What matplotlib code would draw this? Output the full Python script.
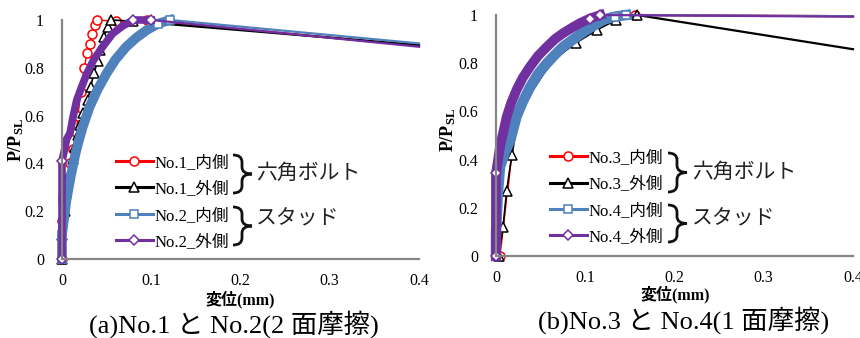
import matplotlib.pyplot as plt
from matplotlib.path import Path
from matplotlib.patches import PathPatch

plt.rcParams['font.family'] = ['Liberation Serif', 'Noto Sans CJK JP']
plt.rcParams['mathtext.fontset'] = 'custom'
plt.rcParams['mathtext.rm'] = 'Liberation Serif'
plt.rcParams['mathtext.bf'] = 'Liberation Serif:bold'

# ---- (a) No.1 / No.2 : displacement (mm) vs P/Psl, last point = tail ----
x_no1_in = [0, 0.0, 0.0015, 0.005, 0.009, 0.012, 0.016, 0.018, 0.021, 0.025,
            0.028, 0.031, 0.034, 0.037, 0.039, 0.06, 0.095, 0.4]
y_no1_in = [0, 0.16, 0.25, 0.33, 0.40, 0.46, 0.53, 0.60, 0.70, 0.80,
            0.86, 0.90, 0.94, 0.98, 1.0, 0.995, 0.998, 0.892]
x_no1_out = [0, 0.0, 0.003, 0.005, 0.008, 0.012, 0.015, 0.018, 0.020, 0.024,
             0.029, 0.032, 0.036, 0.040, 0.043, 0.047, 0.051, 0.055, 0.08, 0.4]
y_no1_out = [0, 0.10, 0.20, 0.275, 0.35, 0.42, 0.47, 0.52, 0.56, 0.61,
             0.665, 0.72, 0.78, 0.83, 0.875, 0.93, 0.97, 1.0, 0.995, 0.895]
x_no2_in = [0, 0.0, 0.005, 0.010, 0.016, 0.023, 0.031, 0.040, 0.050, 0.060,
            0.072, 0.083, 0.095, 0.108, 0.121, 0.4]
y_no2_in = [0, 0.10, 0.247, 0.35, 0.456, 0.55, 0.637, 0.71, 0.777, 0.835,
            0.888, 0.925, 0.958, 0.985, 1.0, 0.902]
x_no2_out = [0, 0.0, 0.003, 0.005, 0.009, 0.0127, 0.0165, 0.022, 0.028, 0.035,
             0.043, 0.050, 0.057, 0.068, 0.080, 0.100, 0.4]
y_no2_out = [0, 0.41, 0.46, 0.50, 0.527, 0.60, 0.665, 0.72, 0.777, 0.83,
             0.875, 0.91, 0.944, 0.975, 1.0, 1.0, 0.888]

# ---- (b) No.3 / No.4 ----
x_no3_in = [0.004, 0.006, 0.008, 0.010, 0.012, 0.014, 0.016, 0.018, 0.022, 0.030,
            0.040, 0.055, 0.070, 0.090, 0.110, 0.130, 0.145, 0.156, 0.4]
y_no3_in = [0, 0.05, 0.12, 0.18, 0.25, 0.30, 0.37, 0.44, 0.51, 0.61,
            0.685, 0.775, 0.84, 0.90, 0.945, 0.975, 0.99, 1.0, 0.995]
x_no3_out = [0.003, 0.005, 0.008, 0.010, 0.012, 0.015, 0.018, 0.022, 0.030, 0.040,
             0.055, 0.070, 0.090, 0.113, 0.135, 0.158, 0.4]
y_no3_out = [0, 0.05, 0.12, 0.20, 0.27, 0.35, 0.42, 0.51, 0.61, 0.68,
             0.765, 0.83, 0.885, 0.938, 0.98, 1.0, 0.858]
x_no4_in = [0, 0.0, 0.002, 0.0045, 0.010, 0.016, 0.023, 0.030, 0.038, 0.047,
            0.057, 0.066, 0.075, 0.087, 0.098, 0.110, 0.120, 0.133, 0.146, 0.4]
y_no4_in = [0, 0.10, 0.25, 0.37, 0.43, 0.48, 0.578, 0.64, 0.70, 0.755,
            0.80, 0.835, 0.868, 0.90, 0.93, 0.957, 0.98, 0.993, 1.0, 0.995]
x_no4_out = [0, 0.0, 0.0045, 0.012, 0.017, 0.023, 0.030, 0.038, 0.047, 0.057,
             0.066, 0.075, 0.085, 0.094, 0.105, 0.117, 0.4]
y_no4_out = [0, 0.343, 0.453, 0.578, 0.635, 0.689, 0.74, 0.785, 0.83, 0.868,
             0.90, 0.924, 0.947, 0.966, 0.985, 1.0, 0.993]

x_ticks = [0, 0.1, 0.2, 0.3, 0.4]
y_ticks = [0, 0.2, 0.4, 0.6, 0.8, 1]

RED, BLACK, BLUE, PURPLE = '#FF0000', '#000000', '#4F81BD', '#7030A0'
W, H = 860, 338


def fx(px):
    return px / W


def fy(py):
    return 1 - py / H


def draw(ax, x, y, color, marker, lw, ms, label, every=None):
    # tail segment (no markers)
    ax.plot(x[-2:], y[-2:], color=color, lw=1.6, clip_on=False)
    line, = ax.plot(x[:-1], y[:-1], color=color, lw=lw, marker=marker, ms=ms,
                    mfc='white', mec=color, mew=1.1, markevery=every,
                    clip_on=False, label=label)
    return line


def brace(x0, y0, y1, xm, xt):
    ym = (y0 + y1) / 2
    r = 7
    pts = [(x0, y0), (xm, y0), (xm, y0 + r), (xm, ym - r), (xm, ym), (xt, ym),
           (xm, ym), (xm, ym + r), (xm, y1 - r), (xm, y1), (x0, y1)]
    codes = [Path.MOVETO, Path.CURVE3, Path.CURVE3, Path.LINETO, Path.CURVE3, Path.CURVE3,
             Path.CURVE3, Path.CURVE3, Path.LINETO, Path.CURVE3, Path.CURVE3]
    p = Path([(fx(a), fy(b)) for a, b in pts], codes)
    fig.patches.append(PathPatch(p, fill=False, lw=2.0, ec='#111111',
                                 transform=fig.transFigure))


fig = plt.figure(figsize=(8.6, 3.38), dpi=100)
ax1 = fig.add_axes([fx(62), fy(259), 357 / W, 239 / H])
ax2 = fig.add_axes([fx(496), fy(256), 357 / W, 241 / H])

h1 = [
    draw(ax1, x_no1_in, y_no1_in, RED, 'o', 1.0, 6.5, 'No.1_内側'),
    draw(ax1, x_no1_out, y_no1_out, BLACK, '^', 1.2, 6.5, 'No.1_外側'),
    draw(ax1, x_no2_in, y_no2_in, BLUE, 's', 7.0, 6, 'No.2_内側', [0, 1, 13, 14]),
    draw(ax1, x_no2_out, y_no2_out, PURPLE, 'D', 5.5, 5, 'No.2_外側', [0, 1, 14, 15]),
]
h2 = [
    draw(ax2, x_no3_in, y_no3_in, RED, 'o', 1.2, 6.5, 'No.3_内側', [0, 17]),
    draw(ax2, x_no3_out, y_no3_out, BLACK, '^', 1.2, 6.5, 'No.3_外側',
         [0, 2, 4, 6, 12, 13, 14, 15]),
    draw(ax2, x_no4_in, y_no4_in, BLUE, 's', 7.5, 6, 'No.4_内側', [0, 1, 17, 18]),
    draw(ax2, x_no4_out, y_no4_out, PURPLE, 'D', 7.0, 5, 'No.4_外側', [0, 1, 14, 15]),
]

for ax, handles, lx, ly in [(ax1, h1, 116, 155), (ax2, h2, 550, 150)]:
    ax.set_xlim(0, 0.4)
    ax.set_ylim(0, 1)
    ax.set_xticks(x_ticks)
    ax.set_xticklabels([f'{v:g}' for v in x_ticks])
    ax.set_yticks(y_ticks)
    ax.set_yticklabels([f'{v:g}' for v in y_ticks])
    ax.tick_params(length=0, labelsize=11.5, pad=10)
    ax.tick_params(axis='y', pad=13)
    for s in ['top', 'right']:
        ax.spines[s].set_visible(False)
    for s in ['left', 'bottom']:
        ax.spines[s].set_color('#868686')
        ax.spines[s].set_linewidth(1.6)
    ax.patch.set_alpha(0)
    leg = ax.legend(handles=handles, loc='upper left', frameon=False,
                    bbox_to_anchor=(fx(lx), fy(ly)), bbox_transform=fig.transFigure,
                    fontsize=12, borderpad=0, handlelength=2.2, handletextpad=0.1,
                    labelspacing=0.62, borderaxespad=0)
    for ln in leg.get_lines():
        ln.set_linewidth(2.2)

# braces and group labels
brace(233, 155, 193, 242, 252)
brace(233, 207, 245, 242, 252)
brace(668, 153, 192, 677, 687)
brace(668, 205, 242, 677, 687)
for px, py, s in [(256, 174, '六角ボルト'), (256, 220, 'スタッド'),
                  (692, 173, '六角ボルト'), (692, 220, 'スタッド')]:
    fig.text(fx(px), fy(py), s, fontsize=15, color='#222222', ha='left', va='center')

# axis titles and captions
for px, py in [(16, 140), (448, 130)]:
    fig.text(fx(px), fy(py), r'$\mathbf{P/P_{SL}}$', fontsize=13, rotation=90,
             ha='center', va='center')
for px, py in [(240, 300), (675, 295)]:
    fig.text(fx(px), fy(py), '変位(mm)', fontsize=11.5, fontweight='bold',
             ha='center', va='center')
fig.text(fx(234), fy(324), '(a)No.1 と No.2(2 面摩擦)', fontsize=19,
         ha='center', va='center')
fig.text(fx(684), fy(320), '(b)No.3 と No.4(1 面摩擦)', fontsize=19,
         ha='center', va='center')

fig.savefig('out.png', dpi=100)
